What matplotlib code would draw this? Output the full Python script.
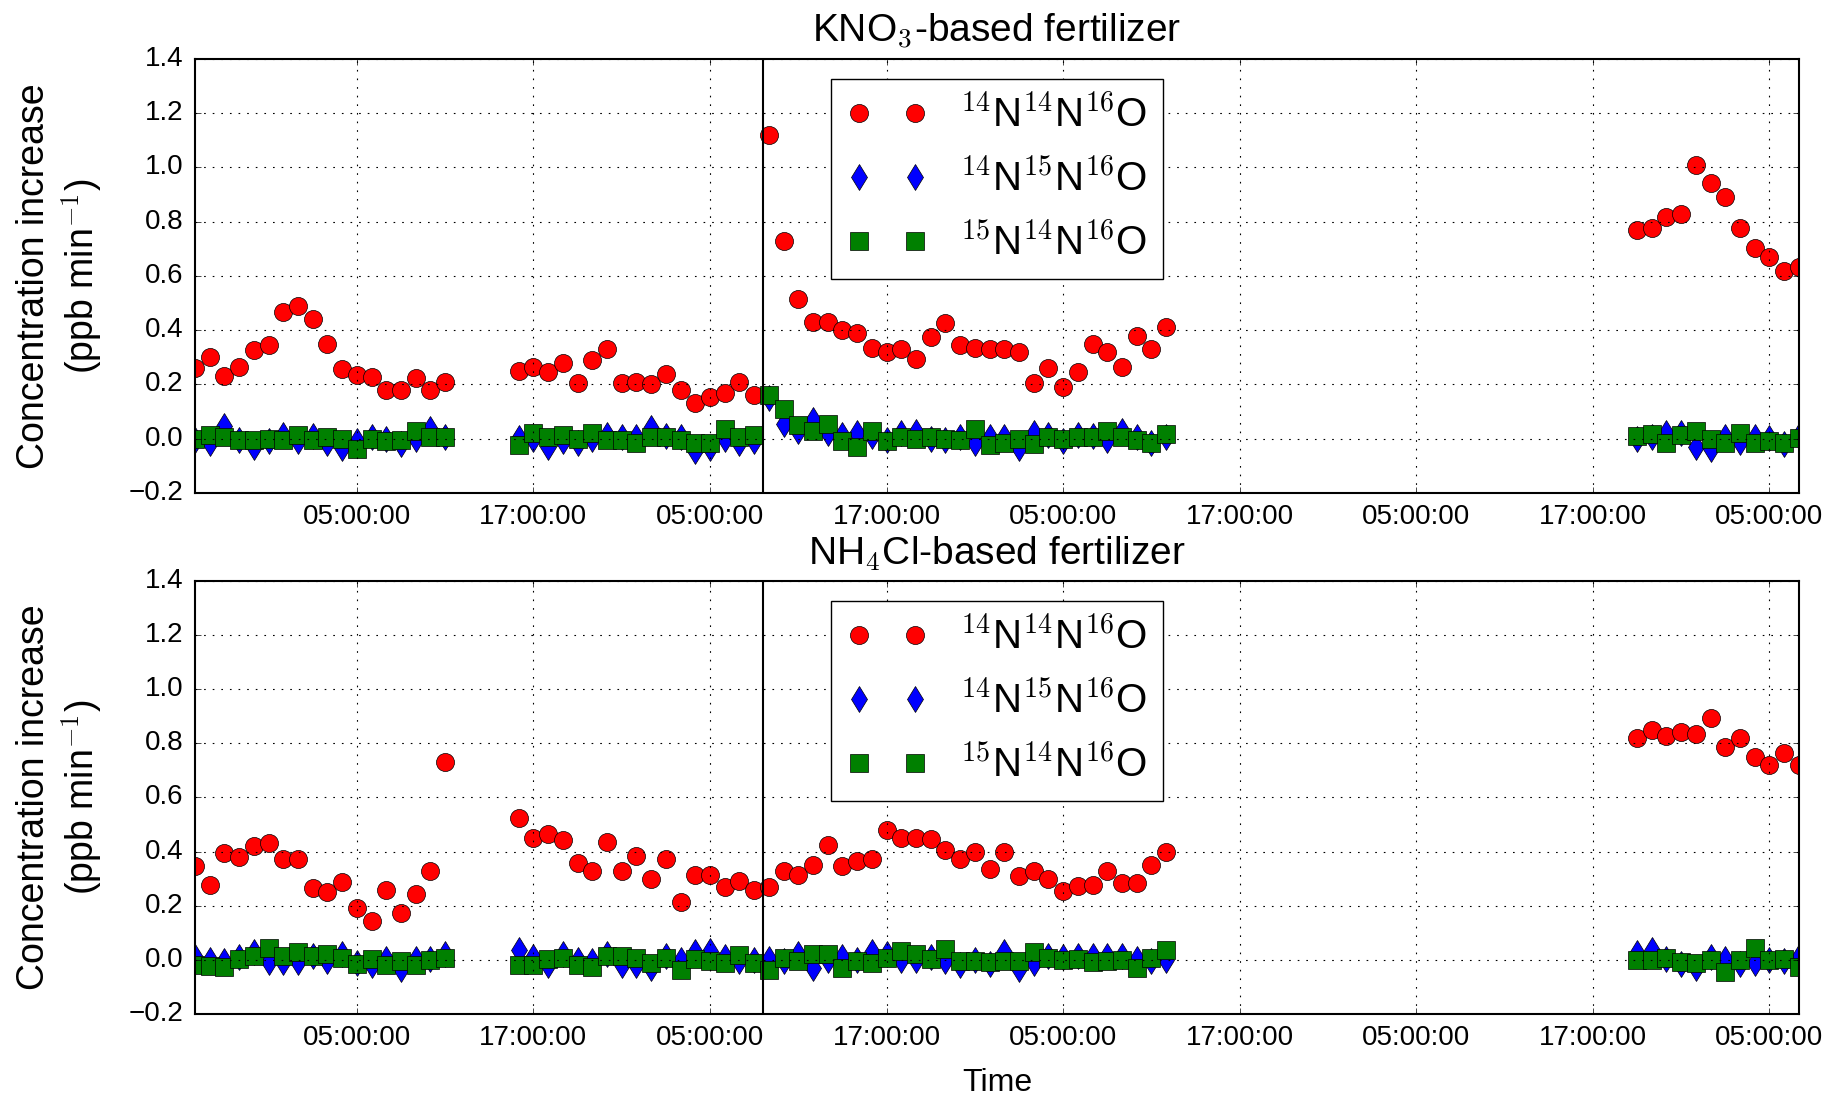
import matplotlib
matplotlib.use('Agg')
import matplotlib.pyplot as plt
import matplotlib.dates as mdates
import numpy as np
import pandas as pd

# hourly measurement blocks (three runs)
seg_start = ['2014-07-14 18:00', '2014-07-15 16:00', '2014-07-18 20:00']
seg_end = ['2014-07-15 11:00', '2014-07-17 12:00', '2014-07-19 07:00']
switch_time = '2014-07-16 08:35'

# KNO3 panel
kno3_446 = [0.26, 0.30, 0.23, 0.265, 0.325, 0.344, 0.467, 0.49, 0.44, 0.35, 0.258, 0.236,
            0.227, 0.178, 0.178, 0.224, 0.178, 0.208,
            0.25, 0.265, 0.245, 0.28, 0.205, 0.29, 0.33, 0.205, 0.21, 0.20, 0.24, 0.18,
            0.13, 0.155, 0.17, 0.21, 0.16, 1.12, 0.73, 0.515, 0.43, 0.43, 0.40, 0.39,
            0.335, 0.32, 0.33, 0.295, 0.375, 0.425, 0.345, 0.335, 0.33, 0.33, 0.32, 0.205,
            0.26, 0.19, 0.245, 0.35, 0.32, 0.265, 0.38, 0.33, 0.41,
            0.768, 0.777, 0.818, 0.826, 1.007, 0.941, 0.890, 0.777, 0.703, 0.669, 0.619, 0.632]
kno3_456a = [-0.005, -0.015, 0.047, -0.003, -0.03, -0.008, 0.012, -0.008, 0.01, -0.015, -0.033, -0.008,
             0.007, 0.0, -0.02, 0.0, 0.035, 0.006,
             0.004, 0.0, -0.03, -0.008, -0.015, 0.0, 0.015, 0.005, 0.005, 0.04, 0.01, 0.008,
             -0.045, -0.035, 0.0, -0.015, -0.01, 0.15, 0.055, 0.028, 0.07, 0.02, 0.012, 0.022,
             0.01, -0.003, 0.022, 0.025, 0.0, -0.005, 0.007, -0.015, 0.007, 0.007, -0.033, 0.02,
             0.015, -0.008, 0.015, 0.01, -0.005, 0.028, 0.005, -0.015, 0.005,
             0.0, 0.005, 0.02, 0.02, -0.03, -0.037, 0.007, -0.012, 0.007, 0.004, -0.018, 0.01]
kno3_456b = [0.0, 0.013, 0.007, -0.006, -0.006, 0.0, -0.005, 0.013, -0.006, 0.007, 0.0, -0.039,
             0.0, -0.008, -0.006, 0.03, 0.007, 0.007,
             -0.025, 0.022, 0.007, 0.013, 0.0, 0.022, -0.006, -0.006, -0.015, 0.007, 0.007, -0.004,
             -0.015, -0.015, 0.037, 0.007, 0.013, 0.16, 0.11, 0.05, 0.03, 0.053, -0.008, -0.03,
             0.03, -0.008, 0.007, 0.0, 0.007, 0.0, -0.006, 0.037, -0.025, -0.015, 0.0, -0.02,
             0.007, 0.0, 0.007, 0.007, 0.03, 0.007, -0.006, -0.015, 0.016,
             0.01, 0.016, -0.015, 0.013, 0.028, 0.0, -0.015, 0.022, -0.015, -0.008, -0.015, 0.004]

# NH4Cl panel
nh4_446 = [0.345, 0.277, 0.395, 0.381, 0.42, 0.43, 0.372, 0.372, 0.266, 0.25, 0.286, 0.193,
           0.142, 0.257, 0.173, 0.243, 0.328, 0.73,
           0.523, 0.45, 0.464, 0.443, 0.358, 0.328, 0.436, 0.328, 0.385, 0.30, 0.372, 0.214,
           0.315, 0.315, 0.27, 0.293, 0.257, 0.27, 0.328, 0.315, 0.351, 0.423, 0.345, 0.365,
           0.372, 0.48, 0.45, 0.45, 0.446, 0.405, 0.372, 0.40, 0.335, 0.40, 0.308, 0.328,
           0.30, 0.254, 0.273, 0.277, 0.328, 0.284, 0.284, 0.351, 0.40,
           0.82, 0.85, 0.827, 0.843, 0.834, 0.894, 0.786, 0.82, 0.748, 0.718, 0.764, 0.718]
nh4_456a = [0.01, 0.0, -0.005, 0.01, 0.03, -0.008, -0.008, -0.008, 0.015, -0.005, 0.023, -0.01,
            -0.02, 0.005, -0.035, 0.005, 0.005, 0.023,
            0.036, 0.011, -0.02, 0.023, 0.0, -0.005, 0.02, -0.02, -0.02, -0.03, 0.015, 0.0,
            0.03, 0.032, 0.01, -0.005, 0.0, 0.005, -0.005, 0.02, -0.03, 0.0, 0.01, 0.0,
            0.03, 0.02, 0.0, 0.0, 0.01, -0.005, -0.02, 0.0, -0.015, 0.03, -0.035, -0.01,
            0.015, 0.012, 0.015, 0.015, 0.015, 0.015, 0.005, -0.005, -0.002,
            0.025, 0.038, 0.005, -0.015, -0.03, 0.01, 0.005, -0.015, -0.01, 0.0, -0.005, 0.01]
nh4_456b = [-0.02, -0.023, -0.026, 0.005, 0.015, 0.044, 0.015, 0.03, 0.015, 0.023, 0.007, -0.016,
            0.002, -0.02, -0.005, -0.02, 0.0, 0.007,
            -0.02, -0.02, 0.002, 0.007, -0.02, -0.026, 0.015, 0.015, 0.007, -0.013, 0.007, -0.038,
            0.002, -0.005, -0.013, 0.017, -0.013, -0.038, 0.007, -0.005, 0.023, 0.023, -0.03, -0.005,
            -0.013, 0.007, 0.032, 0.023, 0.002, 0.04, -0.005, -0.005, -0.008, -0.005, -0.005, 0.03,
            0.007, 0.0, 0.002, -0.008, -0.005, -0.001, -0.03, 0.007, 0.035,
            0.0, 0.0, 0.007, -0.008, -0.012, 0.0, -0.045, 0.0, 0.045, 0.0, 0.002, -0.025]

titles = ['KNO$_3$-based fertilizer', 'NH$_4$Cl-based fertilizer']
labels = ['$^{14}$N$^{14}$N$^{16}$O', '$^{14}$N$^{15}$N$^{16}$O', '$^{15}$N$^{14}$N$^{16}$O']

times = pd.DatetimeIndex(np.concatenate(
    [pd.date_range(s, e, freq='h') for s, e in zip(seg_start, seg_end)]))

plt.style.use('classic')
plt.rcParams['font.family'] = 'Liberation Sans'
plt.rcParams['mathtext.fontset'] = 'cm'

fig = plt.figure(figsize=(18.36, 10.96), dpi=100, facecolor='white')
ax1 = fig.add_axes([0.1062, 0.5502, 0.8736, 0.3963])
ax2 = fig.add_axes([0.1062, 0.0748, 0.8736, 0.3953])

panels = [(ax1, kno3_446, kno3_456a, kno3_456b), (ax2, nh4_446, nh4_456a, nh4_456b)]
for i, (ax, y1, y2, y3) in enumerate(panels):
    ax.plot(times, y1, 'o', color='r', ms=13, mec='k', mew=0.5, label=labels[0])
    ax.plot(times, y2, 'd', color='b', ms=13, mec='k', mew=0.5, label=labels[1])
    ax.plot(times, y3, 's', color='g', ms=13, mec='k', mew=0.5, label=labels[2])
    ax.axvline(pd.Timestamp(switch_time), color='k', lw=1.5)
    ax.set_xlim(times[0], times[-1])
    ax.set_ylim(-0.2, 1.4)
    ax.set_yticks(np.arange(-0.2, 1.41, 0.2))
    ax.xaxis.set_major_locator(mdates.HourLocator(byhour=[5, 17]))
    ax.xaxis.set_major_formatter(mdates.DateFormatter('%H:%M:%S'))
    ax.tick_params(labelsize=20, pad=8)
    ax.grid(True, color='k', lw=0.8, dashes=(1.2, 5))
    for sp in ax.spines.values():
        sp.set_linewidth(1.5)
    ax.set_title(titles[i], fontsize=28, pad=12)
    ax.set_ylabel('Concentration increase\n(ppb min$^{-1}$)', fontsize=27)
    ax.yaxis.set_label_coords(-0.057, 0.5)
    ax.legend(loc='upper center', numpoints=2, fontsize=29, labelspacing=0.6)

ax2.set_xlabel('Time', fontsize=23, labelpad=12)

fig.savefig('out.png', dpi=100, facecolor='white')
